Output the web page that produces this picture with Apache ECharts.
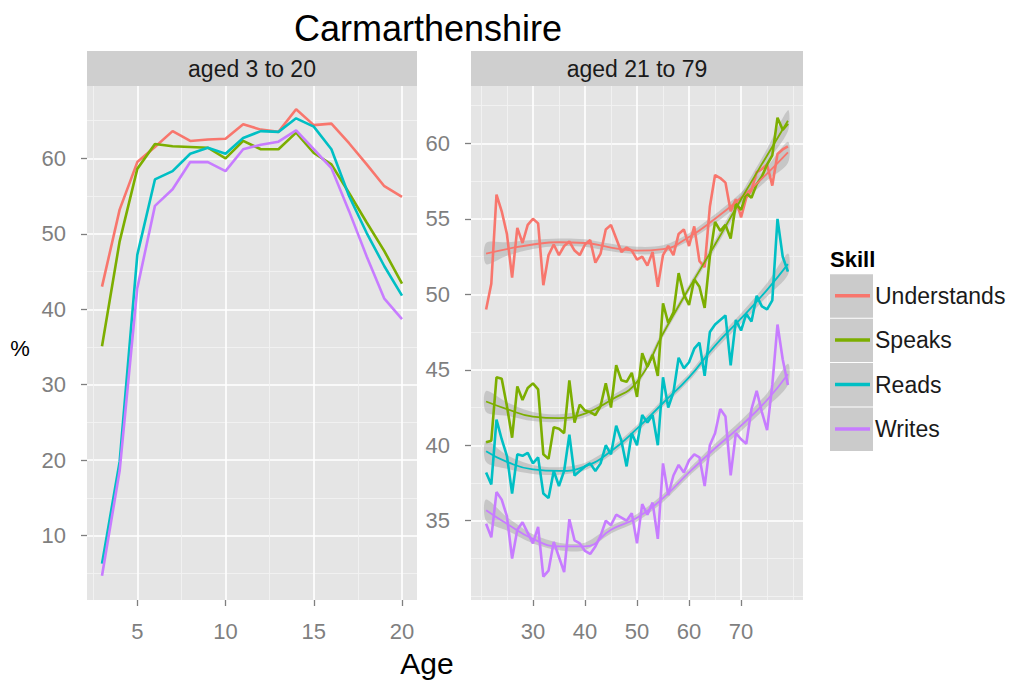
<!DOCTYPE html>
<html>
<head>
<meta charset="utf-8">
<title>Carmarthenshire</title>
<script src="https://cdn.jsdelivr.net/npm/echarts@6/dist/echarts.min.js"></script>
<style>
  html, body { margin: 0; padding: 0; background: #fff; }
  #chart { width: 1027px; height: 686px; }
</style>
</head>
<body>
<div id="chart"></div>
<script>
// ---- data: aged 3 to 20 ----
const youngAges = [3, 4, 5, 6, 7, 8, 9, 10, 11, 12, 13, 14, 15, 16, 17, 18, 19, 20];
const youngUnderstands = [43.0, 53.2, 59.5, 61.5, 63.6, 62.3, 62.5, 62.6, 64.5, 63.8, 63.5, 66.5, 64.4, 64.6, 62.0, 59.2, 56.3, 54.9];
const youngSpeaks = [35.1, 49.0, 58.6, 61.9, 61.6, 61.5, 61.4, 60.0, 62.3, 61.2, 61.2, 63.4, 60.7, 59.2, 55.4, 51.5, 47.7, 43.4];
const youngReads = [6.3, 19.8, 47.2, 57.2, 58.3, 60.6, 61.4, 60.6, 62.7, 63.6, 63.5, 65.3, 64.2, 61.2, 55.0, 50.1, 45.7, 41.8];
const youngWrites = [4.7, 18.6, 42.8, 53.7, 55.9, 59.5, 59.5, 58.3, 61.2, 61.8, 62.2, 63.7, 61.2, 58.7, 53.0, 47.0, 41.4, 38.7];

// ---- data: aged 21 to 79 ----
const adultAges = [21, 22, 23, 24, 25, 26, 27, 28, 29, 30, 31, 32, 33, 34, 35, 36, 37, 38, 39, 40,
  41, 42, 43, 44, 45, 46, 47, 48, 49, 50, 51, 52, 53, 54, 55, 56, 57, 58, 59, 60,
  61, 62, 63, 64, 65, 66, 67, 68, 69, 70, 71, 72, 73, 74, 75, 76, 77, 78, 79];
const adultUnderstands = [49.0, 50.7, 56.6, 55.5, 54.0, 51.1, 54.4, 53.4, 54.6, 55.0,
  54.7, 50.6, 52.6, 53.3, 52.6, 53.2, 53.5, 52.9, 52.6, 53.3,
  53.6, 52.1, 52.7, 54.3, 54.6, 53.7, 52.8, 53.1, 52.9, 52.3,
  52.5, 51.9, 52.8, 50.5, 52.6, 53.2, 52.6, 54.0, 54.3, 53.2,
  54.5, 52.2, 51.8, 55.8, 57.9, 57.7, 57.4, 55.5, 56.3, 55.1,
  56.4, 56.9, 58.1, 58.3, 58.6, 57.2, 59.3, 59.6, 59.8];
const adultSpeaks = [40.2, 40.3, 44.5, 44.4, 42.6, 40.5, 43.9, 43.0, 43.8, 44.1,
  43.7, 39.4, 39.1, 41.2, 41.1, 40.8, 44.3, 41.5, 42.7, 42.3,
  42.2, 42.0, 42.6, 44.1, 42.5, 45.3, 44.3, 44.2, 44.8, 43.2,
  46.1, 45.2, 46.0, 44.6, 49.4, 48.1, 48.8, 51.4, 50.0, 49.3,
  51.0, 50.5, 49.1, 52.5, 54.8, 54.2, 54.6, 53.7, 56.0, 55.6,
  56.7, 56.4, 57.3, 57.8, 58.6, 59.2, 61.7, 60.9, 61.3];
const adultReads = [38.2, 37.4, 41.7, 40.4, 39.3, 36.8, 39.4, 39.3, 39.5, 38.8,
  39.2, 36.8, 36.5, 38.3, 37.3, 38.3, 40.7, 38.0, 38.3, 38.6,
  38.8, 38.3, 38.8, 40.0, 39.4, 41.3, 40.3, 38.6, 40.8, 40.0,
  42.0, 41.5, 42.0, 40.0, 44.5, 42.5, 43.5, 45.8, 45.1, 45.5,
  46.4, 46.8, 44.6, 47.5, 48.0, 48.3, 48.6, 45.3, 48.3, 47.6,
  48.7, 48.2, 49.9, 49.2, 49.0, 49.6, 55.0, 52.5, 51.5];
const adultWrites = [34.8, 33.9, 36.9, 36.4, 35.3, 32.5, 34.4, 34.9, 34.2, 33.5,
  34.6, 31.3, 31.7, 33.6, 32.6, 31.6, 35.1, 33.7, 33.5, 33.0,
  32.8, 33.3, 34.0, 35.0, 34.7, 35.4, 35.2, 35.0, 35.5, 33.5,
  36.1, 35.4, 36.2, 33.8, 38.8, 36.7, 38.0, 38.7, 38.2, 39.0,
  39.4, 39.2, 37.3, 40.0, 40.8, 42.4, 41.9, 38.0, 40.8, 40.4,
  40.1, 42.4, 43.6, 42.2, 41.0, 44.0, 48.0, 45.7, 44.0];

// smoothed trend and the band half width
const smoothAges = [21, 25, 30, 35, 40, 45, 50, 55, 60, 65, 70, 75, 79];
const smoothUnderstands = [52.7, 53.0, 53.3, 53.45, 53.4, 53.1, 52.9, 53.0, 53.8, 55.0, 56.4, 58.0, 59.4];
const smoothSpeaks = [42.9, 42.4, 41.9, 41.8, 42.1, 43.0, 44.2, 47.4, 50.4, 53.3, 56.3, 59.2, 61.5];
const smoothReads = [39.6, 38.9, 38.4, 38.3, 38.6, 39.6, 41.1, 42.8, 44.5, 46.6, 48.4, 50.3, 52.0];
const smoothWrites = [35.7, 34.8, 33.8, 33.3, 33.3, 34.4, 35.2, 36.5, 38.2, 39.8, 41.3, 43.0, 44.7];
const bandHalf = [0.7, 0.45, 0.3, 0.25, 0.25, 0.25, 0.25, 0.25, 0.25, 0.3, 0.35, 0.45, 0.7];

// ticks
const youngXTicks = [5, 10, 15, 20];
const youngXMinor = [2.5, 7.5, 12.5, 17.5];
const youngYTicks = [10, 20, 30, 40, 50, 60];
const youngYMinor = [5, 15, 25, 35, 45, 55, 65];
const adultXTicks = [30, 40, 50, 60, 70];
const adultXMinor = [20, 25, 35, 45, 55, 65, 75, 80];
const adultYTicks = [35, 40, 45, 50, 55, 60];
const adultYMinor = [30, 32.5, 37.5, 42.5, 47.5, 52.5, 57.5, 62.5];

const skills = ['Understands', 'Speaks', 'Reads', 'Writes'];
const colors = ['#F8766D', '#7CAE00', '#00BFC4', '#C77CFF'];

const FONT = '"Liberation Sans", Arial, Helvetica, sans-serif';
const zip = (xs, ys) => xs.map((x, i) => [x, ys[i]]);

function majorAxis(gridIndex, min, max, ticks, margin) {
  return {
    type: 'value', gridIndex, min, max,
    axisLine: { show: false },
    axisTick: { show: true, customValues: ticks, length: 6, lineStyle: { color: '#7f7f7f', width: 1.3 } },
    axisLabel: { customValues: ticks, color: '#7f7f7f', fontSize: 22, fontFamily: FONT, margin },
    splitLine: { show: true, lineStyle: { color: '#ffffff', width: 1.6 } }
  };
}

function minorAxis(gridIndex, min, max, ticks) {
  return {
    type: 'value', gridIndex, min, max,
    axisLine: { show: false },
    axisTick: { show: false, customValues: ticks },
    axisLabel: { show: false, customValues: ticks },
    splitLine: { show: true, lineStyle: { color: '#f2f2f2', width: 0.9 } }
  };
}

function rawLine(name, xi, yi, data, color) {
  return {
    name, type: 'line', xAxisIndex: xi, yAxisIndex: yi, data,
    symbol: 'none', showSymbol: false, silent: true,
    lineStyle: { color, width: 2.6 }, itemStyle: { color }
  };
}

const youngSets = [youngUnderstands, youngSpeaks, youngReads, youngWrites];
const adultSets = [adultUnderstands, adultSpeaks, adultReads, adultWrites];
const smoothSets = [smoothUnderstands, smoothSpeaks, smoothReads, smoothWrites];

const series = [];
youngSets.forEach((vals, i) => series.push(rawLine(skills[i], 0, 0, zip(youngAges, vals), colors[i])));
adultSets.forEach((vals, i) => series.push(rawLine(skills[i], 2, 2, zip(adultAges, vals), colors[i])));

// grey confidence band: one polygon per skill, placed through the axis scales
smoothSets.forEach((vals, i) => {
  series.push({
    name: 'band' + i, type: 'custom', xAxisIndex: 2, yAxisIndex: 2, silent: true,
    data: [[smoothAges[0], vals[0]]],
    encode: { x: 0, y: 1 },
    renderItem(params, api) {
      const upper = smoothAges.map((a, k) => api.coord([a, vals[k] + bandHalf[k]]));
      const lower = smoothAges.map((a, k) => api.coord([a, vals[k] - bandHalf[k]])).reverse();
      return {
        type: 'polygon',
        shape: { points: upper.concat(lower), smooth: 0.3 },
        style: { fill: 'rgba(153,153,153,0.4)' }
      };
    }
  });
  series.push({
    name: 'smooth' + i, type: 'line', xAxisIndex: 2, yAxisIndex: 2,
    data: zip(smoothAges, vals), smooth: true, symbol: 'none', silent: true,
    lineStyle: { color: colors[i], width: 1.8 }
  });
});

const keyBoxes = skills.map((s, i) => ({
  type: 'rect', shape: { x: 830, y: 274.3 + i * 44.4, width: 43, height: 43.4 },
  style: { fill: '#cbcbcb' }, z: 0
}));

const chart = echarts.init(document.getElementById('chart'), null, { renderer: 'svg' });
chart.setOption({
  animation: false,
  backgroundColor: '#ffffff',
  textStyle: { fontFamily: FONT },
  grid: [
    { left: 87, top: 86, width: 330, height: 514, show: true, backgroundColor: '#e5e5e5', borderWidth: 0 },
    { left: 471, top: 86, width: 332, height: 514, show: true, backgroundColor: '#e5e5e5', borderWidth: 0 }
  ],
  xAxis: [
    majorAxis(0, 2.15, 20.85, youngXTicks, 20),
    minorAxis(0, 2.15, 20.85, youngXMinor),
    majorAxis(1, 18.1, 81.9, adultXTicks, 20),
    minorAxis(1, 18.1, 81.9, adultXMinor)
  ],
  yAxis: [
    majorAxis(0, 1.48, 69.58, youngYTicks, 21),
    minorAxis(0, 1.48, 69.58, youngYMinor),
    majorAxis(1, 29.75, 63.8, adultYTicks, 21),
    minorAxis(1, 29.75, 63.8, adultYMinor)
  ],
  legend: {
    data: skills, orient: 'vertical', left: 835, top: 273.5, padding: 0,
    icon: 'rect', itemWidth: 35, itemHeight: 3.5, itemGap: 0, itemTextGap: 15,
    selectedMode: false,
    textStyle: { fontSize: 23, lineHeight: 44.4, color: '#1a1a1a', fontFamily: FONT }
  },
  graphic: [
    { type: 'text', x: 428, y: 28, style: { text: 'Carmarthenshire', fontSize: 36, fontFamily: FONT, fill: '#000', align: 'center', verticalAlign: 'middle' } },
    { type: 'rect', shape: { x: 87, y: 51, width: 330, height: 35 }, style: { fill: '#cfcfcf' } },
    { type: 'text', x: 252, y: 69, style: { text: 'aged 3 to 20', fontSize: 23, fontFamily: FONT, fill: '#1a1a1a', align: 'center', verticalAlign: 'middle' } },
    { type: 'rect', shape: { x: 471, y: 51, width: 332, height: 35 }, style: { fill: '#cfcfcf' } },
    { type: 'text', x: 637, y: 69, style: { text: 'aged 21 to 79', fontSize: 23, fontFamily: FONT, fill: '#1a1a1a', align: 'center', verticalAlign: 'middle' } },
    { type: 'text', x: 20, y: 348, style: { text: '%', fontSize: 22, fontFamily: FONT, fill: '#000', align: 'center', verticalAlign: 'middle' } },
    { type: 'text', x: 427, y: 663, style: { text: 'Age', fontSize: 30, fontFamily: FONT, fill: '#000', align: 'center', verticalAlign: 'middle' } },
    { type: 'text', x: 830, y: 259, style: { text: 'Skill', fontSize: 22, fontWeight: 'bold', fontFamily: FONT, fill: '#000', align: 'left', verticalAlign: 'middle' } }
  ].concat(keyBoxes),
  series
});
</script>
</body>
</html>
